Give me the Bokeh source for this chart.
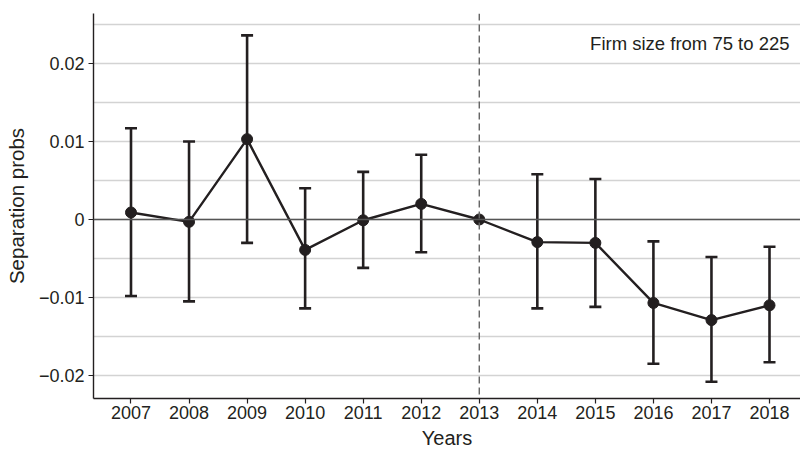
from bokeh.plotting import figure
from bokeh.models import (ColumnDataSource, FixedTicker, Whisker, TeeHead, Span,
                          Label, CustomJSTickFormatter, Range1d)
from bokeh.embed import file_html
from bokeh.resources import INLINE

# ---- data ----
years = [2007, 2008, 2009, 2010, 2011, 2012, 2013, 2014, 2015, 2016, 2017, 2018]
estimate = [0.0009, -0.0003, 0.0103, -0.0039, -0.0001, 0.0020, 0.0, -0.0029, -0.0030, -0.0107, -0.0129, -0.0110]
upper = [0.0117, 0.0100, 0.0236, 0.0040, 0.0061, 0.0083, None, 0.0058, 0.0052, -0.0028, -0.0048, -0.0035]
lower = [-0.0098, -0.0105, -0.0030, -0.0114, -0.0062, -0.0042, None, -0.0114, -0.0112, -0.0185, -0.0208, -0.0183]
y_ticks = [-0.02, -0.01, 0.0, 0.01, 0.02]
grid_ticks = [-0.02, -0.015, -0.01, -0.005, 0.0, 0.005, 0.01, 0.015, 0.02, 0.025]
reference_year = 2013
note = "Firm size from 75 to 225"

INK = "#231f20"
FONT = "Liberation Sans"

p = figure(width=800, height=455, output_backend="svg", toolbar_location=None,
           x_range=Range1d(2006.354, 2018.534), y_range=Range1d(-0.02295, 0.02641),
           min_border_left=93, min_border_right=0, min_border_top=13, min_border_bottom=57)
p.outline_line_color = None
p.background_fill_color = "white"

# grid
p.xgrid.grid_line_color = None
p.ygrid.ticker = FixedTicker(ticks=grid_ticks)
p.ygrid.grid_line_color = "#d3d3d3"
p.ygrid.grid_line_width = 1.6

# axes
for ax in (p.xaxis[0], p.yaxis[0]):
    ax.axis_line_color = INK
    ax.axis_line_width = 1.4
    ax.major_tick_line_color = INK
    ax.major_tick_line_width = 1.2
    ax.major_tick_out = 5
    ax.major_tick_in = 0
    ax.minor_tick_line_color = None
    ax.major_label_text_font = FONT
    ax.major_label_text_font_size = "18px"
    ax.major_label_text_color = INK
    ax.axis_label_text_font = FONT
    ax.axis_label_text_font_style = "normal"
    ax.axis_label_text_color = INK

p.xaxis.ticker = FixedTicker(ticks=years)
p.xaxis.major_label_standoff = 2
p.xaxis.axis_label = "Years"
p.xaxis.axis_label_text_font_size = "20px"
p.xaxis.axis_label_standoff = 5

p.yaxis.ticker = FixedTicker(ticks=y_ticks)
p.yaxis.formatter = CustomJSTickFormatter(code="""
    const s = Math.abs(tick).toString();
    return tick < 0 ? "\u2212" + s : s;
""")
p.yaxis.major_label_standoff = 4
p.yaxis.axis_label = "Separation probs"
p.yaxis.axis_label_text_font_size = "20.5px"
p.yaxis.axis_label_standoff = 8

# zero line and reference line
p.add_layout(Span(location=0, dimension="width", line_color="#555555", line_width=1.5))
p.add_layout(Span(location=reference_year, dimension="height", line_color="#666666",
                  line_width=1.4, line_dash="7 4"))

# error bars
eb_x = [y for y, u in zip(years, upper) if u is not None]
eb_u = [u for u in upper if u is not None]
eb_l = [l for l in lower if l is not None]
eb_src = ColumnDataSource(dict(x=eb_x, upper=eb_u, lower=eb_l))
whisker = Whisker(source=eb_src, base="x", upper="upper", lower="lower",
                  line_color=INK, line_width=2.6,
                  upper_head=TeeHead(size=12, line_color=INK, line_width=2.6),
                  lower_head=TeeHead(size=12, line_color=INK, line_width=2.6))
p.add_layout(whisker)

src = ColumnDataSource(dict(x=years, y=estimate))
p.line("x", "y", source=src, line_color=INK, line_width=2.4)
p.scatter("x", "y", source=src, size=11, fill_color=INK, line_color=INK)

p.add_layout(Label(x=2018.345, y=0.02256, text=note, text_align="right",
                   text_baseline="middle", text_font=FONT, text_font_size="18.5px",
                   text_color=INK))

open("out.html", "w").write(file_html(p, INLINE))
